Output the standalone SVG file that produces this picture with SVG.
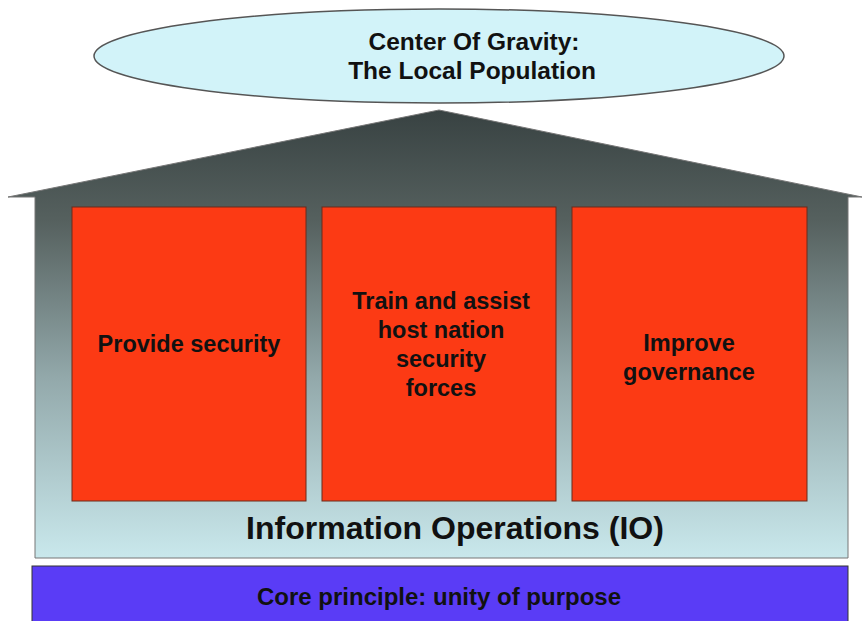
<svg xmlns="http://www.w3.org/2000/svg" width="863" height="621" viewBox="0 0 863 621">
  <style>
    text { font-family: "Liberation Sans", Arial, sans-serif; font-weight: bold; fill: #111; text-anchor: middle; }
    .lbl { font-size: 23.5px; }
    .pillar { fill: #fc3a14; stroke: #6a2a1a; stroke-width: 1; }
  </style>
  <defs>
    <linearGradient id="houseGrad" x1="0" y1="110" x2="0" y2="558" gradientUnits="userSpaceOnUse">
      <stop offset="0" stop-color="#384242"/>
      <stop offset="0.25" stop-color="#56615f"/>
      <stop offset="0.6" stop-color="#93a9ab"/>
      <stop offset="1" stop-color="#c9e8ec"/>
    </linearGradient>
  </defs>
  <rect width="863" height="621" fill="#ffffff"/>

  <g id="center-of-gravity">
    <ellipse cx="439" cy="56" rx="345" ry="47" fill="#d2f3f9" stroke="#555" stroke-width="1.5"/>
    <text x="474" y="50" style="font-size:24.5px">Center Of Gravity:</text>
    <text x="472" y="79" style="font-size:24.5px">The Local Population</text>
  </g>

  <g id="house">
    <path d="M439 110 L862 197 L848 197 L848 558 L35 558 L35 197 L8 197 Z" fill="url(#houseGrad)" stroke="#777" stroke-width="1"/>
    <text x="455" y="539" style="font-size:32px">Information Operations (IO)</text>
  </g>

  <g id="provide-security">
    <rect class="pillar" x="72" y="207" width="234" height="294"/>
    <text class="lbl" x="189" y="352">Provide security</text>
  </g>

  <g id="train-assist">
    <rect class="pillar" x="322" y="207" width="234" height="294"/>
    <text class="lbl" x="441" y="309">Train and assist</text>
    <text class="lbl" x="441" y="338">host nation</text>
    <text class="lbl" x="441" y="367">security</text>
    <text class="lbl" x="441" y="396">forces</text>
  </g>

  <g id="improve-governance">
    <rect class="pillar" x="572" y="207" width="235" height="294"/>
    <text class="lbl" x="689" y="351">Improve</text>
    <text class="lbl" x="689" y="380">governance</text>
  </g>

  <g id="core-principle">
    <rect x="32" y="566" width="816" height="60" fill="#5a3cf6" stroke="#333" stroke-width="1"/>
    <text x="439" y="605" style="font-size:24px">Core principle: unity of purpose</text>
  </g>
</svg>
